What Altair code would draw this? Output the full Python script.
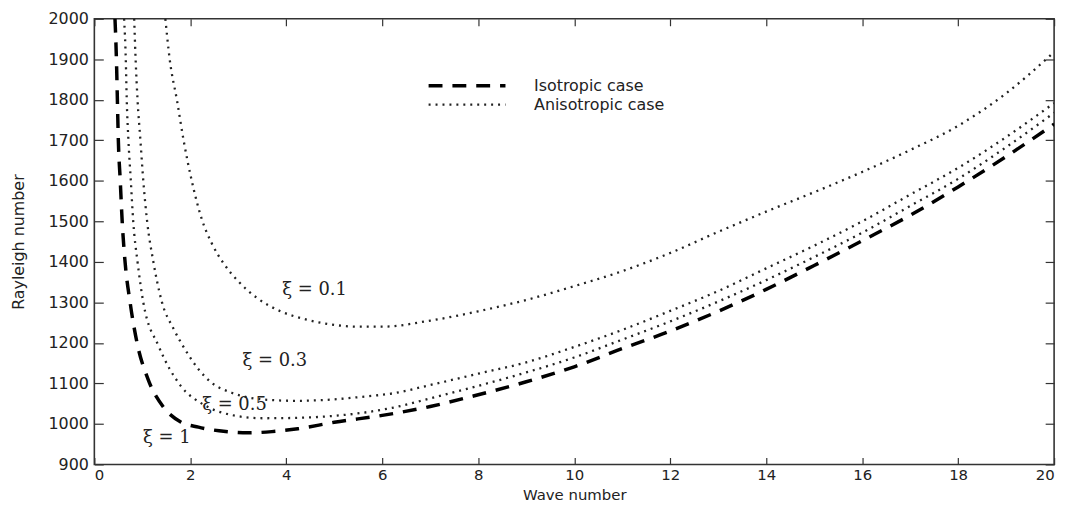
import altair as alt
import pandas as pd

# ---- data ----
iso_k = [0.43, 0.46, 0.48, 0.50, 0.54, 0.58, 0.64, 0.745, 0.89, 1.12,
         1.45, 1.8, 2.17, 2.6, 3.2, 3.7, 4.24, 5.0, 6.0, 7.0,
         8.0, 9.0, 10.0, 11.0, 12.0, 13.0, 14.0, 15.0, 16.0, 17.0, 18.0, 19.0, 20.0]
iso_ra = [2000, 1900, 1800, 1700, 1600, 1500, 1400, 1300, 1200, 1110,
          1040, 1005, 992, 983, 978, 981, 988, 1004, 1021, 1043,
          1072, 1104, 1141, 1186, 1229, 1278, 1332, 1391, 1452, 1515, 1585, 1660, 1740]

xi05_k = [0.62, 0.655, 0.675, 0.71, 0.76, 0.81, 0.9, 1.02, 1.34, 1.8,
          2.3, 2.86, 3.5, 4.24, 5.0, 5.62, 6.3, 7.0, 8.0, 9.0,
          10.0, 11.0, 12.0, 13.0, 14.0, 15.0, 16.0, 17.0, 18.0, 19.0, 20.0]
xi05_ra = [2000, 1900, 1800, 1700, 1600, 1500, 1400, 1300, 1192, 1094,
           1046, 1022, 1014, 1015, 1020, 1028, 1042, 1063, 1094, 1127,
           1164, 1208, 1253, 1302, 1355, 1412, 1472, 1538, 1605, 1683, 1768]

xi03_k = [0.83, 0.86, 0.90, 0.96, 1.02, 1.10, 1.23, 1.41, 1.65, 1.9,
          2.17, 2.44, 2.86, 3.55, 4.2, 4.92, 5.5, 6.3, 7.0, 8.0,
          9.0, 10.0, 11.0, 12.0, 13.0, 14.0, 15.0, 16.0, 17.0, 18.0, 19.0, 20.0]
xi03_ra = [2000, 1900, 1800, 1700, 1600, 1500, 1400, 1300, 1235, 1182,
           1135, 1102, 1077, 1060, 1057, 1060, 1066, 1077, 1096, 1124,
           1152, 1190, 1232, 1279, 1328, 1384, 1440, 1500, 1566, 1632, 1708, 1792]

xi01_k = [1.48, 1.57, 1.72, 1.86, 2.03, 2.24, 2.45, 2.7, 3.0, 3.4,
          3.9, 4.4, 4.9, 5.5, 6.0, 7.0, 8.0, 9.0, 10.0, 11.0,
          12.0, 13.0, 14.0, 15.0, 16.0, 17.0, 18.0, 19.0, 20.0]
xi01_ra = [2000, 1900, 1800, 1700, 1600, 1505, 1445, 1395, 1352, 1310,
           1277, 1258, 1246, 1240, 1240, 1255, 1278, 1306, 1340, 1377,
           1422, 1474, 1524, 1572, 1622, 1676, 1736, 1816, 1918]

cases = ["Isotropic case", "Anisotropic case"]

label_text = ["\u03be = 0.1", "\u03be = 0.3", "\u03be = 0.5", "\u03be = 1"]
label_k = [4.59, 3.76, 2.92, 1.51]
label_ra = [1330, 1155, 1046, 966]

x_ticks = [0, 2, 4, 6, 8, 10, 12, 14, 16, 18, 20]
y_ticks = [900, 1000, 1100, 1200, 1300, 1400, 1500, 1600, 1700, 1800, 1900, 2000]

# ---- tables ----
rows = []
for name, case, ks, ras in [
    ("1", cases[0], iso_k, iso_ra),
    ("0.5", cases[1], xi05_k, xi05_ra),
    ("0.3", cases[1], xi03_k, xi03_ra),
    ("0.1", cases[1], xi01_k, xi01_ra),
]:
    for k, r in zip(ks, ras):
        rows.append({"k": k, "ra": r, "xi": name, "case": case})
df = pd.DataFrame(rows)
labels_df = pd.DataFrame({"k": label_k, "ra": label_ra, "label": label_text})

FONT = "DejaVu Sans"
TXT = "#222222"
W, H = 967, 449

xscale = alt.Scale(domain=[0, 20], nice=False)
yscale = alt.Scale(domain=[900, 2000], nice=False, zero=False)

legend = alt.Legend(
    title=None, orient="none", legendX=335, legendY=59,
    symbolType="stroke", symbolSize=6000, clipHeight=17, rowPadding=2,
    labelFont=FONT, labelFontSize=16, labelColor=TXT, labelOffset=27,
)

lines = alt.Chart(df).mark_line(interpolate="monotone", clip=True).encode(
    x=alt.X("k:Q", scale=xscale, axis=alt.Axis(
        title="Wave number", values=x_ticks, format="d", orient="bottom",
        offset=-7, tickSize=7, labelPadding=3, labelFontSize=15, domain=False, grid=False,
        titleBaseline="alphabetic", titleY=42, titleFontSize=15)),
    y=alt.Y("ra:Q", scale=yscale, axis=alt.Axis(
        title="Rayleigh number", values=y_ticks, format="d", orient="left",
        offset=-9, tickSize=9, labelPadding=6, domain=False, grid=False,
        titleBaseline="middle", titleX=-85, titleY=H / 2, titleAngle=270)),
    detail="xi:N",
    strokeDash=alt.StrokeDash("case:N", scale=alt.Scale(domain=cases, range=[[14, 10], [2, 5]]), legend=legend),
    strokeWidth=alt.StrokeWidth("case:N", scale=alt.Scale(domain=cases, range=[3.5, 2.3]), legend=legend),
    color=alt.Color("case:N", scale=alt.Scale(domain=cases, range=["#000000", "#222222"]), legend=legend),
)

texts = alt.Chart(labels_df).mark_text(
    font="DejaVu Serif", fontSize=18, color=TXT, align="center", baseline="middle"
).encode(
    x=alt.X("k:Q", scale=xscale, axis=alt.Axis(
        title=None, values=x_ticks, orient="top", offset=-7, tickSize=7,
        labels=False, domain=False, grid=False)),
    y=alt.Y("ra:Q", scale=yscale, axis=alt.Axis(
        title=None, values=y_ticks, orient="right", offset=-9, tickSize=9,
        labels=False, domain=False, grid=False)),
    text="label:N",
)

chart = alt.layer(lines, texts).resolve_scale(
    x="shared", y="shared"
).resolve_axis(
    x="independent", y="independent"
).properties(
    width=W, height=H,
    padding={"left": 87, "top": 9, "right": 14, "bottom": 38},
    autosize=alt.AutoSizeParams(type="none"),
).configure_view(
    stroke="#333333", strokeWidth=1.6
).configure_axis(
    labelFont=FONT, labelFontSize=16, labelColor=TXT,
    titleFont=FONT, titleFontSize=16, titleColor=TXT, titleFontWeight="normal",
    tickColor="#333333", tickWidth=1.2,
)

chart.save("out.html", embed_options={"renderer": "svg", "actions": False})
